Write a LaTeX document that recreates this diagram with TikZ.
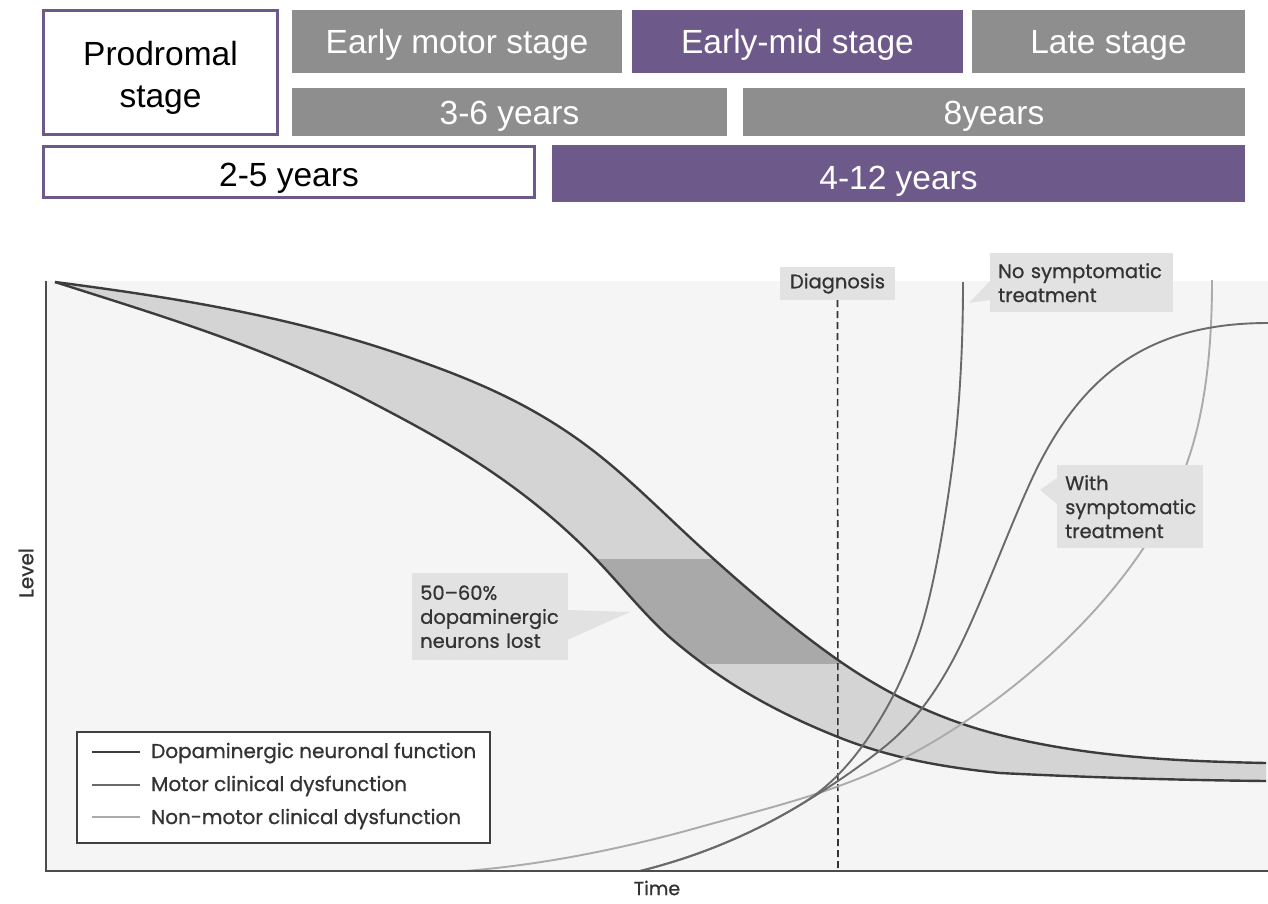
\documentclass[tikz,border=0pt]{standalone}
\usepackage{fontspec}
\setmainfont{Liberation Sans}
\newfontfamily\chartfont[FakeBold=0.8]{Poppins}
\definecolor{pp}{HTML}{6E5A8A}
\definecolor{gb}{HTML}{8E8E8E}
\definecolor{bgc}{HTML}{F5F5F5}
\definecolor{bandl}{HTML}{D4D4D4}
\definecolor{bandd}{HTML}{A9A9A9}
\definecolor{dop}{HTML}{3C3C3C}
\definecolor{mot}{HTML}{6A6A6A}
\definecolor{nmot}{HTML}{ABABAB}
\definecolor{call}{HTML}{E2E2E2}
\definecolor{txt}{HTML}{333333}
\begin{document}
\begin{tikzpicture}[x=1pt,y=-1pt,
  bartxt/.style={inner sep=0pt, font=\fontsize{33.5}{42}\selectfont, text=white, align=center, text height=24pt, text depth=0pt},
  graybar/.style={bartxt, fill=gb},
  purplebar/.style={bartxt, fill=pp},
  whitebar/.style={bartxt, fill=white, draw=pp, line width=3pt, text=black},
  callbox/.style={fill=call, inner xsep=8pt, inner ysep=0pt, align=left, anchor=north west,
     font=\chartfont\fontsize{19.5}{24}\selectfont, text=txt},
  callptr/.style={fill=call},
  axisline/.style={draw=black!70, line width=1.8pt},
  dopline/.style={draw=dop, line width=2.4pt},
  motline/.style={draw=mot, line width=1.9pt},
  nmotline/.style={draw=nmot, line width=1.9pt},
  legtxt/.style={anchor=base west, inner sep=0pt, font=\chartfont\fontsize{20}{24}\selectfont, text=txt},
  axtxt/.style={inner sep=0pt, font=\chartfont\fontsize{19}{22}\selectfont, text=txt}
]
\useasboundingbox (0,0) rectangle (1268,903);

% ---------- top stage bars ----------
\node[whitebar, minimum width=234, minimum height=124] (prod) at (160.5,72.5) {};
\node[inner sep=0pt, font=\fontsize{33.5}{42}\selectfont, align=center] (prodlbl) at (160.5,78) {Prodromal\\stage};
\node[graybar, minimum width=330, minimum height=63] (early) at (457,41.5) {Early motor stage};
\node[purplebar, minimum width=331, minimum height=63] (earlymid) at (797.5,41.5) {Early-mid stage};
\node[graybar, minimum width=273, minimum height=63] (late) at (1108.5,41.5) {Late stage};
\node[graybar, minimum width=435, minimum height=48] (y36) at (509.5,112) {3-6 years};
\node[graybar, minimum width=502, minimum height=48] (y8) at (994,112) {8years};
\node[whitebar, minimum width=491, minimum height=51, text height=28pt] (y25) at (289,172) {2-5 years};
\node[purplebar, minimum width=693, minimum height=57, text height=32pt] (y412) at (898.5,173.5) {4-12 years};

% ---------- plot background ----------
\fill[bgc] (46,281) rectangle (1268,871);

% dopaminergic band (light, then darker part for 50-60% lost)
\fill[bandl] (55,282) .. controls (172.7,297.3) and (290.3,315.8) .. (408,357)
  .. controls (472,379.4) and (536,404.8) .. (600,456)
  .. controls (635.7,484.5) and (671.3,520.9) .. (707,553)
  .. controls (750.7,592.3) and (794.3,629.4) .. (838,660)
  .. controls (892,697.8) and (946,721.5) .. (1000,735)
  .. controls (1088.7,757.2) and (1177.3,761.2) .. (1266,763)
  -- (1266,781) .. controls (1177.3,780.1) and (1088.7,777.4) .. (1000,773)
  .. controls (946,767.6) and (892,758.6) .. (838,737)
  .. controls (783,715) and (728,686.8) .. (673,640)
  .. controls (645.3,616.5) and (617.7,580.7) .. (590,553)
  .. controls (515.7,478.7) and (441.3,438.6) .. (367,400)
  .. controls (263,345.9) and (159,315.3) .. (55,282) -- cycle;
\begin{scope}
\clip (0,559) rectangle (1268,663);
\fill[bandd] (55,282) .. controls (172.7,297.3) and (290.3,315.8) .. (408,357)
  .. controls (472,379.4) and (536,404.8) .. (600,456)
  .. controls (635.7,484.5) and (671.3,520.9) .. (707,553)
  .. controls (750.7,592.3) and (794.3,629.4) .. (838,660)
  .. controls (892,697.8) and (946,721.5) .. (1000,735)
  .. controls (1088.7,757.2) and (1177.3,761.2) .. (1266,763)
  -- (1266,781) .. controls (1177.3,780.1) and (1088.7,777.4) .. (1000,773)
  .. controls (946,767.6) and (892,758.6) .. (838,737)
  .. controls (783,715) and (728,686.8) .. (673,640)
  .. controls (645.3,616.5) and (617.7,580.7) .. (590,553)
  .. controls (515.7,478.7) and (441.3,438.6) .. (367,400)
  .. controls (263,345.9) and (159,315.3) .. (55,282) -- cycle;
\end{scope}
\draw[dopline] (55,282) .. controls (172.7,297.3) and (290.3,315.8) .. (408,357)
  .. controls (472,379.4) and (536,404.8) .. (600,456)
  .. controls (635.7,484.5) and (671.3,520.9) .. (707,553)
  .. controls (750.7,592.3) and (794.3,629.4) .. (838,660)
  .. controls (892,697.8) and (946,721.5) .. (1000,735)
  .. controls (1088.7,757.2) and (1177.3,761.2) .. (1266,763);
\draw[dopline] (55,282) .. controls (159,315.3) and (263,345.9) .. (367,400)
  .. controls (441.3,438.6) and (515.7,478.7) .. (590,553)
  .. controls (617.7,580.7) and (645.3,616.5) .. (673,640)
  .. controls (728,686.8) and (783,715) .. (838,737)
  .. controls (892,758.6) and (946,767.6) .. (1000,773)
  .. controls (1088.7,777.4) and (1177.3,780.1) .. (1266,781);

% diagnosis line
\node[callbox, anchor=center, inner xsep=0pt, minimum width=115, minimum height=33] (diag) at (837.5,283.5) {Diagnosis};
\coordinate (diagend) at (838,871);
\draw[draw=black!80, line width=1.6pt, dash pattern=on 7pt off 4pt] (diag.south) -- (diagend);

% non-motor clinical dysfunction
\draw[nmotline] (465,871) .. controls (543.3,864.7) and (621.7,848.9) .. (700,827)
  .. controls (766.7,808.3) and (833.3,793.3) .. (900,760)
  .. controls (990,715) and (1137,603) .. (1187,463)
  .. controls (1207,406.5) and (1212,340) .. (1212,280);
% motor clinical dysfunction, without treatment
\draw[motline] (640,871) .. controls (693.3,857.7) and (746.7,837) .. (800,805)
  .. controls (823.3,791) and (846.7,770) .. (870,735)
  .. controls (885.7,711.5) and (901.3,684) .. (917,640)
  .. controls (928,609.2) and (939,560) .. (950,483)
  .. controls (959.5,416.7) and (963,349) .. (963,282);
% motor clinical dysfunction, with treatment
\draw[motline] (640,871) .. controls (693.3,857.7) and (746.7,837) .. (800,805)
  .. controls (827.7,788.4) and (855.3,770.1) .. (883,748)
  .. controls (909.7,726.7) and (936.3,696) .. (963,640)
  .. controls (985.3,593.1) and (1007.7,532.1) .. (1030,483)
  .. controls (1080,373) and (1150,323) .. (1268,323);

% axes
\draw[axisline] (46,281) -- (46,871) -- (1268,871);
\node[axtxt, font=\chartfont\fontsize{20}{22}\selectfont, rotate=90] (level) at (26,573) {Level};
\node[axtxt] (time) at (657,888) {Time};

% ---------- callouts ----------
\node[callbox, text width=167, minimum height=59] (nosym) at (990,253) {No symptomatic\\treatment};
\fill[callptr] (990,281) -- (969,303) -- (990,300) -- cycle;
\node[callbox, text width=130, minimum height=83] (withsym) at (1057,465) {With\\symptomatic\\treatment};
\fill[callptr] (1057,478) -- (1040,490) -- (1057,504) -- cycle;
\node[callbox, text width=140, minimum height=87] (lost) at (412,573) {50–60\%\\dopaminergic\\neurons lost};
\fill[callptr] (567,610) -- (630,612) -- (567,640) -- cycle;

% ---------- legend ----------
\node[draw=black!75, line width=1.5pt, fill=white, minimum width=413, minimum height=111, inner sep=0pt] (legend) at (283.5,787.5) {};
\coordinate (l1a) at (92,752); \coordinate (l1b) at (140,752);
\coordinate (l2a) at (92,785); \coordinate (l2b) at (140,785);
\coordinate (l3a) at (92,817); \coordinate (l3b) at (140,817);
\draw[dopline] (l1a) -- (l1b);
\draw[motline, line width=2.4pt] (l2a) -- (l2b);
\draw[nmotline, line width=2.4pt] (l3a) -- (l3b);
\node[legtxt] (leg1) at (151,758) {Dopaminergic neuronal function};
\node[legtxt] (leg2) at (151,791) {Motor clinical dysfunction};
\node[legtxt] (leg3) at (151,824) {Non-motor clinical dysfunction};
\end{tikzpicture}
\end{document}
